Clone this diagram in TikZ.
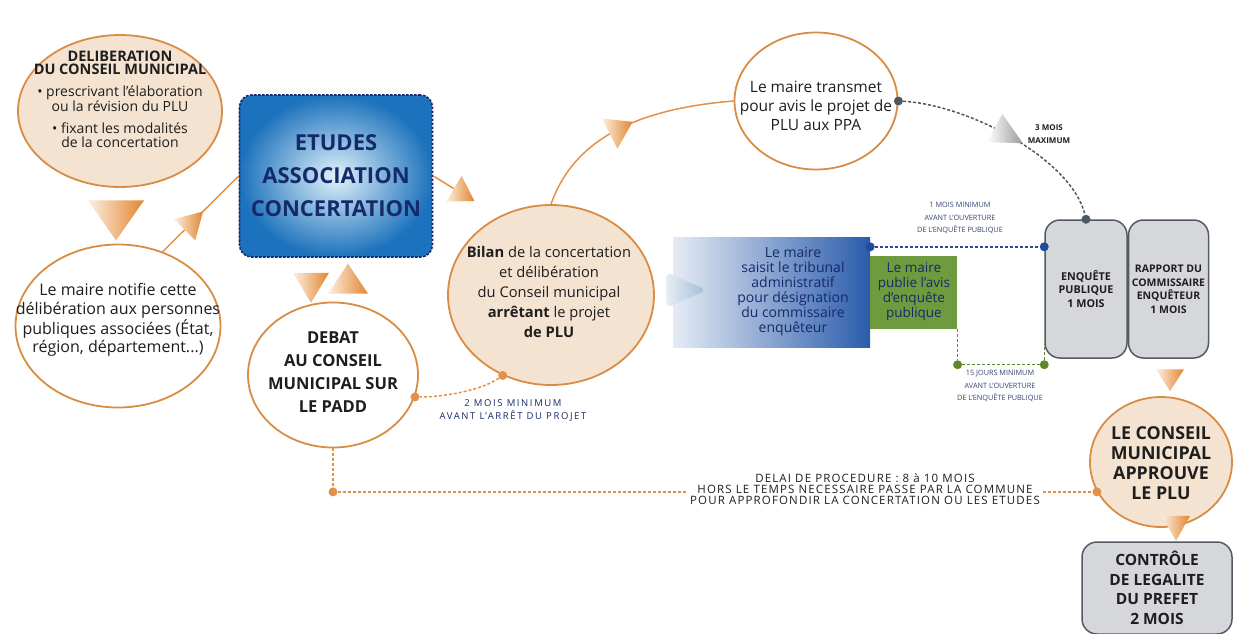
\documentclass[tikz,border=0pt]{standalone}
\usepackage{fontspec}
\setmainfont{Open Sans}
\usetikzlibrary{shapes.geometric,positioning}

\definecolor{tanFill}{HTML}{F4E3D0}
\definecolor{bubbleEdge}{HTML}{D98C44}
\definecolor{flowOrange}{HTML}{E3914A}
\definecolor{tipLight}{HTML}{FCEFE2}
\definecolor{tipDark}{HTML}{E2852F}
\definecolor{etudesBlue}{HTML}{1C72BC}
\definecolor{etudesLight}{HTML}{E2F2FA}
\definecolor{navyInk}{HTML}{16296A}
\definecolor{saisiBlue}{HTML}{2A5CAB}
\definecolor{avisGreen}{HTML}{6F9A3E}
\definecolor{boxGray}{HTML}{D6D7DB}
\definecolor{boxEdge}{HTML}{535A63}
\definecolor{dashGray}{HTML}{4E5864}
\definecolor{dashBlue}{HTML}{1F4C9C}
\definecolor{dashGreen}{HTML}{5A8A2C}
\definecolor{inkDark}{HTML}{1E1E1E}
\definecolor{labelInk}{HTML}{354270}
\definecolor{tipBlue}{HTML}{9FBBD6}

\begin{document}
\begin{tikzpicture}[
    x=1pt, y=-1pt,
    bubble/.style={ellipse, draw=bubbleEdge, line width=1.8pt, inner sep=0pt},
    tanBubble/.style={bubble, fill=tanFill},
    whiteBubble/.style={bubble, fill=white},
    bubbleText/.style={align=center, inner sep=0pt, text=inkDark},
    flowLine/.style={draw=flowOrange, line width=1.5pt},
    flowDash/.style={flowLine, dash pattern=on 3pt off 2pt},
    flowTip/.style 2 args={isosceles triangle, isosceles triangle stretches,
        inner sep=0pt, minimum height=#1, minimum width=#2,
        left color=tipLight, right color=tipDark, allow upside down},
    grayTip/.style 2 args={flowTip={#1}{#2}, left color=white, right color=black!40},
    etudesBox/.style={rounded corners=12pt, draw=navyInk, line width=1.6pt,
        dash pattern=on 2.5pt off 1.5pt, inner color=etudesLight, outer color=etudesBlue,
        align=center, text=navyInk, font=\fontsize{22}{33}\selectfont\bfseries},
    grayBox/.style={draw=boxEdge, line width=1.5pt, fill=boxGray, rounded corners=15pt,
        align=center, inner sep=1pt, text=inkDark},
    joint/.style={circle, fill=#1, inner sep=0pt, minimum size=9pt},
    smallNote/.style={align=center, inner sep=0pt, text=labelInk,
        font=\fontsize{7.3}{12.5}\selectfont}
]
\useasboundingbox (0,0) rectangle (1235,633);

% -- left column --
\node[tanBubble, minimum width=204, minimum height=152] (delib) at (120,111) {};
\node[bubbleText, font=\fontsize{14}{13.5}\selectfont] (delibText) at (120,99)
    {\fontsize{14.5}{14.5}\selectfont\textbf{DELIBERATION}\\
     \fontsize{14.5}{14.5}\selectfont\textbf{DU CONSEIL MUNICIPAL}\\[8pt]
     • prescrivant l'élaboration\\ ou la révision du PLU\\[9pt]
     • fixant les modalités\\ de la concertation};

\node[whiteBubble, minimum width=205, minimum height=163] (notifie) at (118,326) {};
\node[bubbleText, font=\fontsize{16}{18.5}\selectfont] (notifieText) at (118,320)
    {Le maire notifie cette\\ délibération aux personnes\\ publiques associées (État,\\ région, département...)};

\node[flowTip={40}{56}, rotate=-90] (tipNotifie) at (116,215) {};

% -- etudes and debat --
\node[etudesBox, minimum width=193, minimum height=162] (etudes) at (336,176)
    {ETUDES\\ASSOCIATION\\CONCERTATION};

\draw[flowLine] (notifie.59) -- node[flowTip={26}{30}, sloped, pos=.37] (tipEtudes) {} (etudes.west);

\node[whiteBubble, minimum width=170, minimum height=145] (debat) at (333,375) {};
\node[bubbleText, font=\fontsize{16.5}{23}\selectfont\bfseries] (debatText) at (333,372)
    {DEBAT\\AU CONSEIL\\MUNICIPAL SUR\\LE PADD};

\node[flowTip={30}{36}, rotate=-90] (tipDebat) at (311,283) {};
\node[flowTip={30}{40}, rotate=90] (tipEtudesBack) at (348,283) {};

% -- bilan --
\node[tanBubble, minimum width=206, minimum height=180] (bilan) at (551,295) {};
\node[bubbleText, font=\fontsize{14.7}{20}\selectfont] (bilanText) at (549,292)
    {\textbf{Bilan} de la concertation\\ et délibération\\ du Conseil municipal\\
     \textbf{arrêtant} le projet\\ \textbf{de PLU}};

\node[flowTip={24}{30}, rotate=-31] (tipBilan) at (461,193) {};
\draw[flowLine] (etudes.east) -- (tipBilan);

\node[joint=flowOrange] (bilanDot) at (bilan.239) {};
\node[joint=flowOrange] (debatDot) at (debat.345) {};
\draw[flowDash] (bilanDot) .. controls (482,390) and (445,397) .. (debatDot);
\node[align=center, inner sep=0pt, text=navyInk,
      font=\fontsize{9.5}{13}\selectfont\addfontfeature{LetterSpace=17}] (padNote)
    at (513,410) {2 MOIS MINIMUM\\AVANT L'ARRÊT DU PROJET};

% -- transmission aux PPA --
\node[whiteBubble, minimum width=163, minimum height=137] (transmet) at (816,101) {};
\node[bubbleText, font=\fontsize{15.5}{19}\selectfont] (transmetText) at (816,106)
    {Le maire transmet\\ pour avis le projet de\\ PLU aux PPA};

\draw[flowLine] (bilan.north) .. controls (570,150) and (620,110) ..
    node[flowTip={26}{34}, sloped, pos=.56] (tipTransmet) {} (transmet.west);

% -- enquete publique --
\node[rectangle, minimum width=197, minimum height=110, inner sep=0pt,
      left color=saisiBlue!12, middle color=saisiBlue!32, right color=saisiBlue] (tribunal) at (771.5,292) {};
\node[align=center, inner sep=0pt, text=navyInk, font=\fontsize{14}{15}\selectfont] (tribunalText)
    at (793,292) {Le maire\\ saisit le tribunal\\ administratif\\ pour désignation\\ du commissaire\\ enquêteur};
\node[flowTip={40}{36}, rounded corners=6pt, left color=tipBlue!25, right color=tipBlue]
    (tipTribunal) at (678,290) {};
\node[rectangle, fill=avisGreen, minimum width=87, minimum height=73, inner sep=0pt,
      align=center, text=navyInk, font=\fontsize{13.5}{15}\selectfont, right=0pt of tribunal] (avis)
    {Le maire\\ publie l'avis\\ d'enquête\\ publique};

\node[grayBox, minimum width=82, minimum height=138, font=\fontsize{10.8}{13.5}\selectfont\bfseries]
    (enquete) at (1086,289) {ENQUÊTE\\PUBLIQUE\\1 MOIS};
\node[grayBox, minimum width=80, minimum height=138, font=\fontsize{10.5}{13.5}\selectfont\bfseries,
      right=0pt of enquete] (rapport) {RAPPORT DU\\COMMISSAIRE\\ENQUÊTEUR\\1 MOIS};

\node[joint=dashGray] (transDot) at (transmet.east) {};
\node[joint=dashGray] (enqDot) at (enquete.north) {};
\draw[draw=dashGray, line width=1.5pt, dash pattern=on 3pt off 2pt]
    (transDot) .. controls (970,105) and (1072,160) ..
    node[grayTip={32}{32}, sloped, pos=.45] (tipEnquete) {} (enqDot);
\node[align=center, inner sep=0pt, text=inkDark, font=\fontsize{8}{12.5}\selectfont\bfseries]
    (threeMonths) at (1049,134) {3 MOIS\\MAXIMUM};

\node[joint=dashBlue] (saisiDot) at ([yshift=-10pt]tribunal.north east) {};
\node[joint=dashBlue] (ouvertureDot) at (saisiDot -| enquete.west) {};
\draw[draw=dashBlue, line width=1.5pt, dash pattern=on 3pt off 2pt] (saisiDot) -- (ouvertureDot);
\node[smallNote] (oneMonth) at (960,218)
    {1 MOIS MINIMUM\\AVANT L'OUVERTURE\\DE L'ENQUÊTE PUBLIQUE};

\node[joint=dashGreen] (avisDot) at ([yshift=-36pt]avis.south east) {};
\node[joint=dashGreen] (publiDot) at (avisDot -| enquete.west) {};
\draw[draw=dashGreen, line width=1.5pt, dash pattern=on 3pt off 2pt]
    (avis.south east) -- (avisDot) -- (publiDot) -- ([yshift=15pt]enquete.south west);
\node[smallNote] (fifteenDays) at (1000,386)
    {15 JOURS MINIMUM\\AVANT L'OUVERTURE\\DE L'ENQUÊTE PUBLIQUE};

% -- approbation and controle --
\node[flowTip={22}{28}, rotate=-90] (tipConseil) at (1170,377) {};

\node[tanBubble, minimum width=142, minimum height=130] (conseil) at (1161,462) {};
\node[bubbleText, font=\fontsize{17.8}{20}\selectfont\bfseries] (conseilText) at (1161,463)
    {LE CONSEIL\\MUNICIPAL\\APPROUVE\\LE PLU};

\node[flowTip={25}{28}, rotate=-90] (tipControle) at (1176,524) {};

\node[grayBox, minimum width=150, minimum height=92, font=\fontsize{15.5}{19.5}\selectfont\bfseries]
    (controle) at (1157,588) {CONTRÔLE\\DE LEGALITE\\DU PREFET\\2 MOIS};

% -- delai de procedure --
\node[joint=flowOrange] (padDot) at (debat.south |- conseil.205) {};
\node[joint=flowOrange] (approDot) at (conseil.205) {};
\draw[flowDash] (debat.south) -- (padDot) -- (approDot);
\node[fill=white, inner xsep=3pt, inner ysep=1pt, align=center, text=inkDark,
      font=\fontsize{11.5}{10.8}\selectfont\addfontfeature{LetterSpace=10}] (delai) at (865,489)
    {DELAI DE PROCEDURE : 8 à 10 MOIS\\HORS LE TEMPS NECESSAIRE PASSE PAR LA COMMUNE\\
     POUR APPROFONDIR LA CONCERTATION OU LES ETUDES};

\end{tikzpicture}
\end{document}
